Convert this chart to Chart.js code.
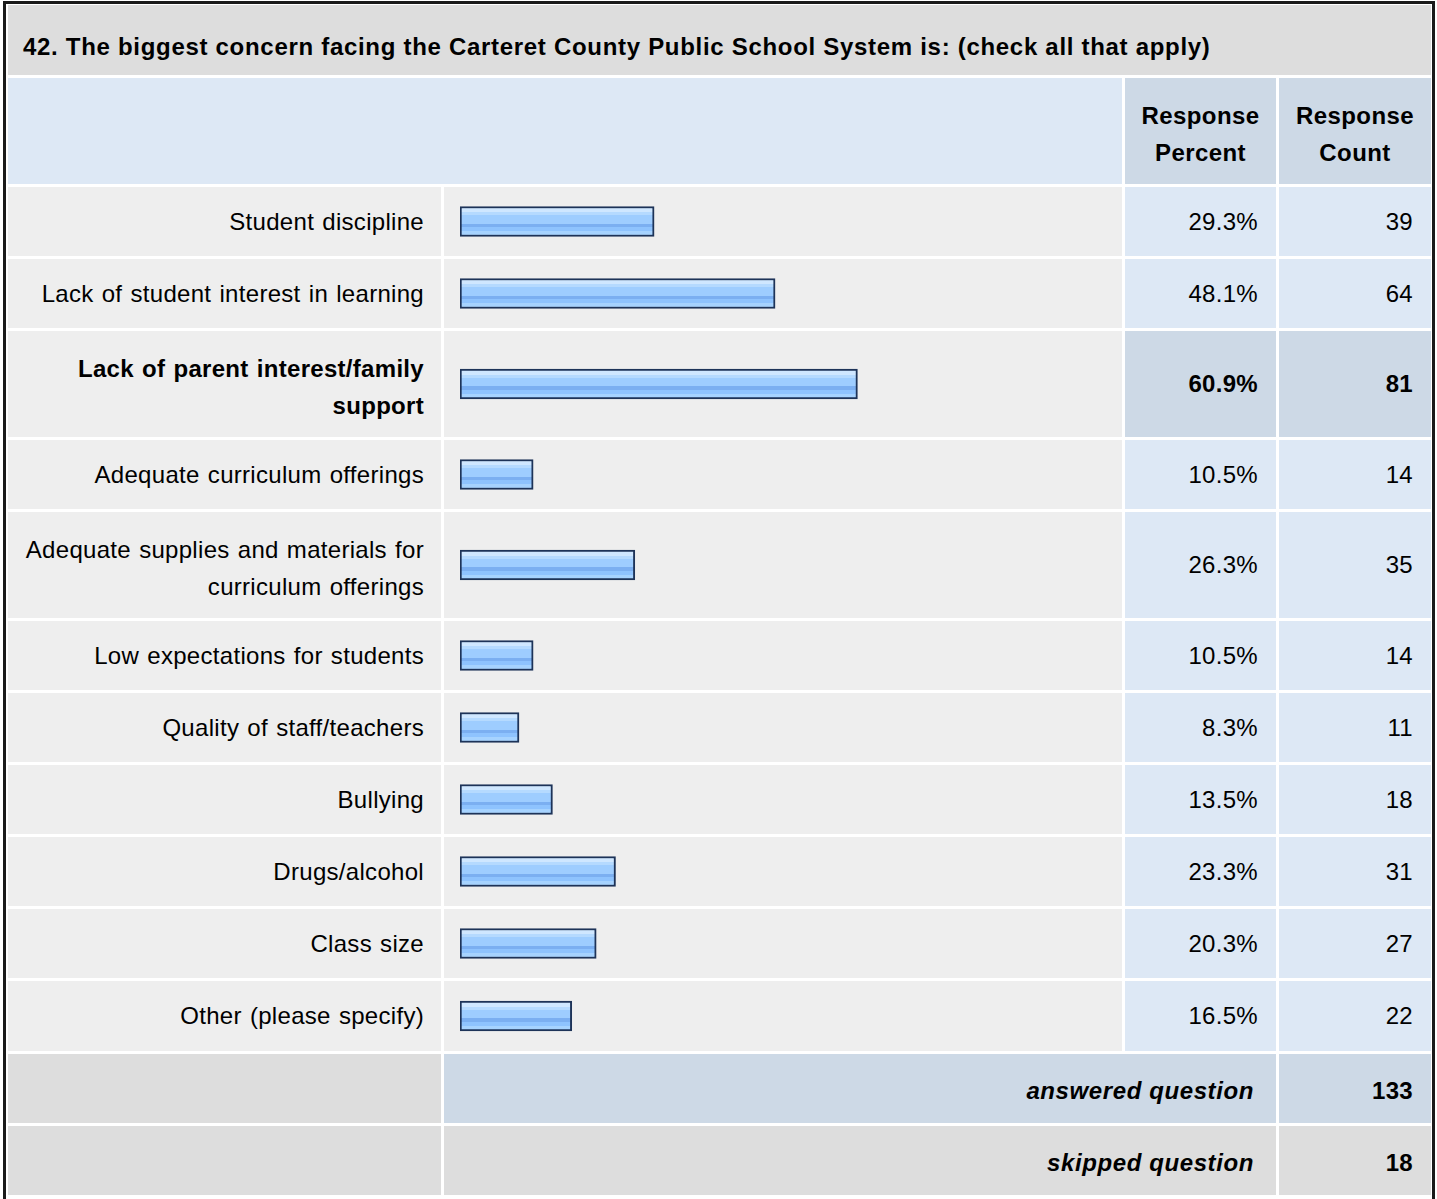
<!DOCTYPE html>
<html>
<head>
<meta charset="utf-8">
<script src="https://cdn.jsdelivr.net/npm/chart.js@4/dist/chart.umd.min.js"></script>
<style>
  html, body { margin:0; padding:0; background:#fff; width:1437px; height:1199px; overflow:hidden; }
  body { font-family: "Liberation Sans", Arial, sans-serif; color:#000; }
  #frame { position:absolute; left:3px; top:1px; width:1426px; height:1196px;
           border-left:3px solid #1a1a1a; border-right:3px solid #1a1a1a; border-top:3px solid #1a1a1a;
           border-bottom:2px solid #9a9a9a; }
  #grid { position:absolute; left:8px; top:5px; display:grid;
          grid-template-columns: 433px 678px 151px 152px; column-gap:3px; row-gap:3px; background:#fff; }
  .cell { box-sizing:border-box; display:flex; align-items:center; font-size:24px; letter-spacing:0.3px; line-height:37.5px; }
  .title { grid-column: 1 / span 4; background:#dddddd; font-weight:bold; padding:13px 0 0 15px; letter-spacing:0.7px; }
  .hdrblank { grid-column: 1 / span 2; background:#dde8f5; }
  .hdr { background:#cdd9e6; font-weight:bold; justify-content:center; text-align:center; letter-spacing:0.4px; padding-top:6px; }
  .label { background:#eeeeee; justify-content:flex-end; text-align:right; padding-right:17px; white-space:nowrap; letter-spacing:0.3px; word-spacing:1.2px; }
  .label.two { padding-top:6px; }
  .barcell { background:#eeeeee; position:relative; }
  .num { background:#dde8f5; justify-content:flex-end; padding-right:18px; }
  .hl { background:#cdd9e6; font-weight:bold; }
  .sumblank { background:#dddddd; }
  .sumtext { grid-column: 2 / span 2; justify-content:flex-end; padding-right:22px; font-weight:bold; font-style:italic; letter-spacing:0.6px; padding-top:4px; }
  .sumnum { justify-content:flex-end; padding-right:18px; font-weight:bold; padding-top:4px; }
</style>
</head>
<body>
<div id="frame"></div>
<div id="grid"></div>
<script>
// ---- data ----
const title = "42. The biggest concern facing the Carteret County Public School System is: (check all that apply)";
const headerPercent = ["Response", "Percent"];
const headerCount = ["Response", "Count"];
const categories = [
  ["Student discipline"],
  ["Lack of student interest in learning"],
  ["Lack of parent interest/family", "support"],
  ["Adequate curriculum offerings"],
  ["Adequate supplies and materials for", "curriculum offerings"],
  ["Low expectations for students"],
  ["Quality of staff/teachers"],
  ["Bullying"],
  ["Drugs/alcohol"],
  ["Class size"],
  ["Other (please specify)"]
];
const percents = [29.3, 48.1, 60.9, 10.5, 26.3, 10.5, 8.3, 13.5, 23.3, 20.3, 16.5];
const counts = [39, 64, 81, 14, 35, 14, 11, 18, 31, 27, 22];
const summaryLabels = ["answered question", "skipped question"];
const summaryValues = [133, 18];

// ---- layout ----
const grid = document.getElementById('grid');
const rowHeights = [70, 106];
function el(cls, html) { const d = document.createElement('div'); d.className = 'cell ' + cls; if (html !== undefined) d.innerHTML = html; grid.appendChild(d); return d; }

el('title', title);
el('hdrblank');
el('hdr', headerPercent.join('<br>'));
el('hdr', headerCount.join('<br>'));

const maxPct = Math.max(...percents);
const barCanvases = [];
categories.forEach((lines, i) => {
  const two = lines.length > 1;
  let h = two ? 106 : 69;
  if (i === categories.length - 1) h = 70;
  rowHeights.push(h);
  const isMax = percents[i] === maxPct;
  const lab = el('label' + (two ? ' two' : ''), lines.join('<br>'));
  if (isMax) lab.style.fontWeight = 'bold';
  const bc = el('barcell');
  const cv = document.createElement('canvas');
  cv.width = 678; cv.height = h;
  cv.style.width = '678px'; cv.style.height = h + 'px';
  bc.appendChild(cv);
  barCanvases.push(cv);
  el('num' + (isMax ? ' hl' : ''), percents[i].toFixed(1) + '%');
  el('num' + (isMax ? ' hl' : ''), String(counts[i]));
});

summaryLabels.forEach((t, i) => {
  rowHeights.push(69);
  const bg = i === 0 ? '#cdd9e6' : '#dddddd';
  el('sumblank');
  el('sumtext', t).style.background = bg;
  el('sumnum', String(summaryValues[i])).style.background = bg;
});
grid.style.gridTemplateRows = rowHeights.map(h => h + 'px').join(' ');

// ---- bars via Chart.js ----
function barGradient(ctx) {
  const chart = ctx.chart;
  const h = chart.height;
  const top = h / 2 - 15;
  const g = chart.ctx.createLinearGradient(0, top, 0, top + 30);
  const stops = [
    [0.00, '#cfe7ff'], [0.19, '#cfe7ff'],
    [0.19, '#b5daff'], [0.30, '#b5daff'],
    [0.30, '#9ecdff'], [0.57, '#9ecdff'],
    [0.57, '#7baff1'], [0.70, '#7baff1'],
    [0.70, '#8ec3fe'], [0.82, '#8ec3fe'],
    [0.82, '#a6d3ff'], [1.00, '#a6d3ff']
  ];
  stops.forEach(s => g.addColorStop(s[0], s[1]));
  return g;
}

barCanvases.forEach((cv, i) => {
  new Chart(cv, {
    type: 'bar',
    data: {
      labels: [categories[i].join(' ')],
      datasets: [{
        data: [percents[i]],
        base: -0.87,
        backgroundColor: barGradient,
        borderColor: '#1d3358',
        borderWidth: 2,
        borderSkipped: false,
        barThickness: 30
      }]
    },
    options: {
      indexAxis: 'y',
      responsive: false,
      animation: false,
      devicePixelRatio: 1,
      layout: { padding: { left: 16, right: 13, top: 0, bottom: 0 } },
      plugins: { legend: { display: false }, tooltip: { enabled: false } },
      scales: {
        x: { display: false, min: -0.87, max: 100 },
        y: { display: false }
      }
    }
  });
});
</script>
</body>
</html>
